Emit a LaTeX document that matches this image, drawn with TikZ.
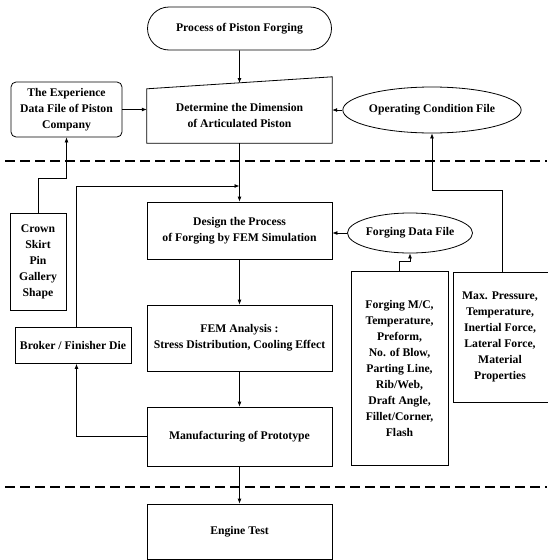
\documentclass[tikz,border=0pt]{standalone}
\usepackage{fontspec}
\setmainfont{Liberation Serif}
\usetikzlibrary{shapes.geometric,shapes.misc,arrows.meta,calc}
\begin{document}
\begin{tikzpicture}[x=1pt,y=-1pt,
  font=\bfseries\fontsize{11.7}{16}\selectfont,
  box/.style={draw, line width=0.8pt, align=center, inner sep=0pt},
  txt/.style={align=center, inner sep=0pt},
  arr/.style={-{Latex[length=5pt,width=4pt]}, line width=0.8pt},
  ln/.style={line width=0.8pt},
  sep/.style={line width=2pt, dash pattern=on 10pt off 5pt}]
\useasboundingbox (0,0) rectangle (547,560);

% nodes
\node[box, rounded rectangle, minimum width=184pt, minimum height=43pt] (start) at (239.5,28.5) {Process of Piston Forging};
\node[txt, minimum width=185pt, minimum height=54pt] (det) at (239.5,116) {Determine the Dimension\\of Articulated Piston};
\draw[ln] (det.south west) -- (det.north west) -- ($(det.north east)+(0,-12)$) -- (det.south east) -- cycle;
\coordinate (dettop) at (239.5,83);
\node[box, rounded corners=5pt, minimum width=111pt, minimum height=55pt] (exp) at (66.5,109.5) {The Experience\\Data File of Piston\\Company};
\node[box, ellipse, minimum width=155pt, minimum height=46pt] (op) at (432,110) {Operating Condition File};
\node[box, minimum width=185pt, minimum height=57pt] (des) at (239.5,230.5) {Design the Process\\of Forging by FEM Simulation};
\node[box, minimum width=185pt, minimum height=66pt] (fem) at (239.5,338) {FEM Analysis :\\Stress Distribution, Cooling Effect};
\node[box, minimum width=185pt, minimum height=59pt] (man) at (239.5,436.5) {Manufacturing of Prototype};
\node[box, minimum width=185pt, minimum height=55pt] (eng) at (239.5,531.5) {Engine Test};
\node[box, minimum width=56pt, minimum height=97pt] (crown) at (38,261.5) {Crown\\Skirt\\Pin\\Gallery\\Shape};
\node[box, minimum width=116pt, minimum height=36pt] (broker) at (73,345.5) {Broker / Finisher Die};
\node[box, ellipse, minimum width=110pt, minimum height=40pt] (fd) at (410,233) {Forging Data File};
\node[box, minimum width=97pt, minimum height=194pt] (fb) at (399.5,368) {Forging M/C,\\Temperature,\\Preform,\\No. of Blow,\\Parting Line,\\Rib/Web,\\Draft Angle,\\Fillet/Corner,\\Flash};
\node[txt] (maxp) at (500,337) {Max. Pressure,\\Temperature,\\Inertial Force,\\Lateral Force,\\Material\\Properties};
\draw[ln] (550,272) -- (453,272) -- (453,402) -- (550,402);
\coordinate (maxtop) at (502,272);
\coordinate (j) at (239.5,186);

% separators
\draw[sep] (5,161) -- (547,161);
\draw[sep] (5,487) -- (547,487);

% connectors
\draw[arr] (start) -- (dettop);
\draw[arr] (exp.east) -- (exp.east -| det.west);
\draw[arr] (op.west) -- (op.west -| det.east);
\draw[arr] (det.south) -- (des.north);
\draw[arr] (des.south) -- (fem.north);
\draw[arr] (fem.south) -- (man.north);
\draw[arr] (man.south) -- (eng.north);
\draw[arr] (fd.west) -- (fd.west -| des.east);
\draw[arr] (fb.north) -- ++(0,-9) -| (fd.south);
\draw[arr] (maxtop) -- (502,190) -| (op.south);
\draw[arr] (crown.north) -- (38,178) -| (exp.south);
\draw[arr] ($(broker.north)+(3.5,0)$) |- (j);
\draw[arr] (man.west) -| ($(broker.south)+(3.5,0)$);
\end{tikzpicture}
\end{document}
